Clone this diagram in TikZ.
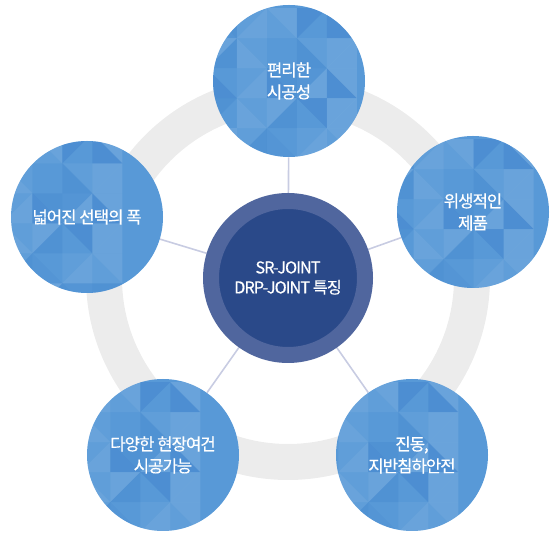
\documentclass[tikz,border=0pt]{standalone}
\usepackage{fontspec}
\newfontfamily\kfont[LetterSpace=-6, FakeBold=0.5]{Noto Sans CJK KR}
\usepackage{pgf, tikz}
\pgfdeclarelayer{edgelayer}
\pgfdeclarelayer{nodelayer}
\pgfsetlayers{edgelayer,nodelayer,main}
\definecolor{ringgray}{RGB}{236,236,236}
\definecolor{linklav}{RGB}{200,204,226}
\definecolor{facetblue}{RGB}{88,153,215}
\definecolor{facetdark}{RGB}{58,125,202}
\definecolor{hubring}{RGB}{80,102,158}
\definecolor{hubfill}{RGB}{42,73,137}
\newcommand{\facets}{%
	\begin{scope}[shift={(path picture bounding box.center)}]
	\foreach \i in {-3,...,2} {
		\foreach \j in {-3,...,2} {
			\pgfmathtruncatemacro{\ha}{mod(abs(3*\i+7*\j+\i*\j+11),6)}
			\pgfmathtruncatemacro{\hb}{mod(abs(5*\i+2*\j+2*\i*\j+4),6)}
			\pgfmathsetmacro{\wa}{\ha<3 ? 0.05*\ha : 0}
			\pgfmathsetmacro{\da}{\ha<3 ? 0 : 0.12*(\ha-2)}
			\pgfmathsetmacro{\wb}{\hb<3 ? 0.05*\hb : 0}
			\pgfmathsetmacro{\db}{\hb<3 ? 0 : 0.12*(\hb-2)}
			\pgfmathtruncatemacro{\odd}{mod(abs(\i+\j),2)}
			\ifnum\odd=1
				\fill [white, opacity=\wa] (\i*0.75, \j*0.75) -- ++(0.75, 0) -- ++(0, 0.75) -- cycle;
				\fill [facetdark, opacity=\da] (\i*0.75, \j*0.75) -- ++(0.75, 0) -- ++(0, 0.75) -- cycle;
				\fill [white, opacity=\wb] (\i*0.75, \j*0.75) -- ++(0.75, 0.75) -- ++(-0.75, 0) -- cycle;
				\fill [facetdark, opacity=\db] (\i*0.75, \j*0.75) -- ++(0.75, 0.75) -- ++(-0.75, 0) -- cycle;
			\else
				\fill [white, opacity=\wa] (\i*0.75, \j*0.75) -- ++(0.75, 0) -- ++(-0.75, 0.75) -- cycle;
				\fill [facetdark, opacity=\da] (\i*0.75, \j*0.75) -- ++(0.75, 0) -- ++(-0.75, 0.75) -- cycle;
				\fill [white, opacity=\wb] (\i*0.75+0.75, \j*0.75) -- ++(0, 0.75) -- ++(-0.75, 0) -- cycle;
				\fill [facetdark, opacity=\db] (\i*0.75+0.75, \j*0.75) -- ++(0, 0.75) -- ++(-0.75, 0) -- cycle;
			\fi
		}
	}
	\end{scope}}
\tikzstyle{link}=[draw=linklav, line width=0.04cm]
\tikzstyle{track}=[draw=ringgray, line width=0.9cm]
\tikzstyle{feature}=[circle, fill=facetblue, minimum size=3.8cm, inner sep=0pt, text=white, align=center, font={\kfont\fontsize{11.9}{15.6}\selectfont}, path picture={\facets}]
\tikzstyle{hub}=[circle, fill=hubfill, draw=hubring, line width=0.4cm, minimum size=3.85cm, inner sep=0pt, text=white, align=center, font={\kfont\fontsize{11.6}{14.2}\selectfont}]

\begin{document}
\begin{tikzpicture}
			\useasboundingbox (0, 0) rectangle (14, 13.425);
			\begin{pgfonlayer}{nodelayer}
			\node [style=feature] (0) at (7.225, 11.4) {편리한\\시공성};
			\node [style=feature] (1) at (11.825, 8.125) {위생적인\\제품};
			\node [style=feature] (2) at (10.3, 2.05) {진동,\\지반침하안전};
			\node [style=feature] (3) at (4.075, 2.05) {다양한 현장여건\\시공가능};
			\node [style=feature] (4) at (2.175, 8.0) {넓어진 선택의 폭};
			\node [style=hub] (5) at (7.2, 6.475) {SR-JOINT\\DRP-JOINT 특징};
			\end{pgfonlayer}
			\begin{pgfonlayer}{edgelayer}
			\draw [style=track] (5) circle (4.6);
			\draw [style=link] (5) to (0);
			\draw [style=link] (5) to (1);
			\draw [style=link] (5) to (2);
			\draw [style=link] (5) to (3);
			\draw [style=link] (5) to (4);
			\end{pgfonlayer}
\end{tikzpicture}
\end{document}
